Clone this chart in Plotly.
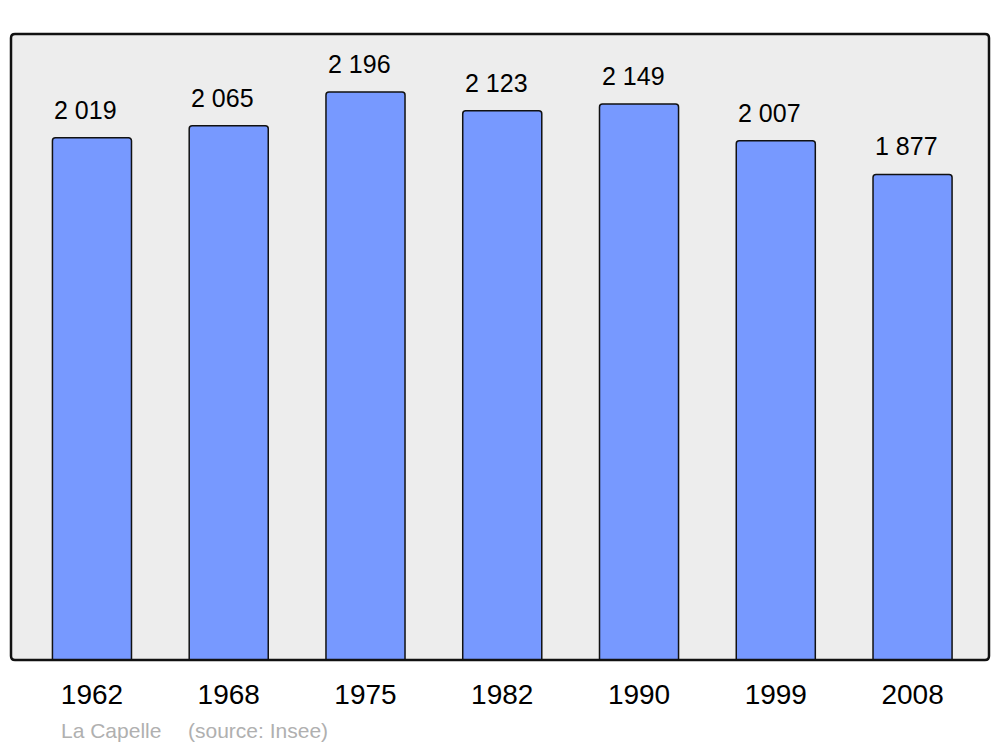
import plotly.graph_objects as go

years = ["1962", "1968", "1975", "1982", "1990", "1999", "2008"]
population = [2019, 2065, 2196, 2123, 2149, 2007, 1877]
labels = ["2 019", "2 065", "2 196", "2 123", "2 149", "2 007", "1 877"]

W, H = 1000, 747
OFF = 8  # page body offset
L, R, T, B = 11 - OFF, 11 + OFF, 34 - OFF, 87 + OFF
pw, ph = W - L - R, H - T - B

xs = list(range(len(years)))

fig = go.Figure()
fig.add_trace(go.Bar(
    x=xs, y=population, width=0.578,
    marker=dict(color="#7799ff", line=dict(color="#111111", width=1.5), cornerradius=3),
    hoverinfo="skip",
))

for x, y, t in zip(xs, population, labels):
    fig.add_annotation(x=x, y=y, text=t, showarrow=False, yanchor="bottom",
                       xshift=-6, yshift=12,
                       font=dict(family="Liberation Sans, Arial", size=25, color="#000"))

# frame with rounded corners (paper coords)
rx, ry = 4 / pw, 4 / ph
path = (f"M {rx},0 L {1-rx},0 Q 1,0 1,{ry} L 1,{1-ry} Q 1,1 {1-rx},1 "
        f"L {rx},1 Q 0,1 0,{1-ry} L 0,{ry} Q 0,0 {rx},0 Z")
fig.add_shape(type="path", path=path, xref="paper", yref="paper",
              line=dict(color="#111111", width=2.5), layer="above")

cap_y = (H - B - (730 - OFF)) / ph
fig.add_annotation(x=(61 - OFF - L) / pw, y=cap_y, xref="paper", yref="paper",
                   text="La Capelle", showarrow=False, xanchor="left", yanchor="middle",
                   xshift=-2,
                   font=dict(family="Liberation Sans, Arial", size=21, color="#b0b0b0"))
fig.add_annotation(x=(188 - OFF - L) / pw, y=cap_y, xref="paper", yref="paper",
                   text="(source: Insee)", showarrow=False, xanchor="left", yanchor="middle",
                   xshift=-2,
                   font=dict(family="Liberation Sans, Arial", size=21, color="#b0b0b0"))

fig.update_layout(
    width=W, height=H,
    margin=dict(l=L, r=R, t=T, b=B, pad=0),
    paper_bgcolor="white", plot_bgcolor="#ededed",
    showlegend=False,
    xaxis=dict(range=[-0.592, 6.559], tickvals=xs, ticktext=years, showgrid=False,
               zeroline=False, ticks="", ticklabelstandoff=15,
               tickfont=dict(family="Liberation Sans, Arial", size=28, color="#000")),
    yaxis=dict(range=[0, 2420], showgrid=False, zeroline=False, showticklabels=False, ticks=""),
)

fig.write_html("out.html")
